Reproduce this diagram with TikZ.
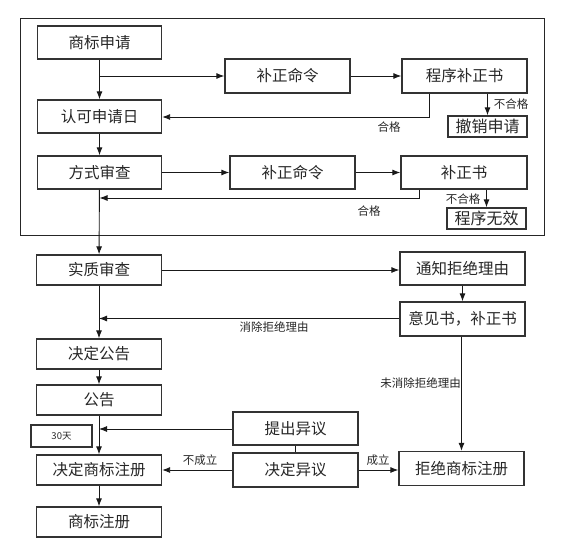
\documentclass[tikz,border=0pt]{standalone}
\usepackage{fontspec}
\newfontfamily\cjk{Noto Sans CJK SC}
\usetikzlibrary{arrows.meta}
\begin{document}
\begin{tikzpicture}[x=1pt,y=-1pt,
  box/.style={draw=black!80,line width=1.3pt,inner sep=0pt,font=\cjk\fontsize{15.5}{18}\selectfont,text=black!85},
  sbox/.style={draw=black!80,line width=1.3pt,inner sep=0pt,font=\cjk\fontsize{16}{18}\selectfont,text=black!85},
  lbl/.style={font=\cjk\fontsize{11.5}{13}\selectfont,text=black!85,inner sep=0pt},
  arr/.style={draw=black!90,line width=0.9pt,-{Latex[length=8pt,width=6pt]}},
  ln/.style={draw=black!90,line width=0.9pt}]
\useasboundingbox (0,0) rectangle (562,551);
\draw[black!85,line width=1pt] (20,19) rectangle (544,235);
% boxes
\node[box,minimum width=124pt,minimum height=33pt] (a1) at (99.5,42.5) {商标申请};
\node[box,minimum width=125pt,minimum height=34pt] (b1) at (287.5,76) {补正命令};
\node[box,minimum width=125pt,minimum height=34pt] (c1) at (464.5,76) {程序补正书};
\node[box,minimum width=124pt,minimum height=33pt] (a2) at (99.5,116.5) {认可申请日};
\node[sbox,minimum width=79pt,minimum height=21pt] (d1) at (487.5,126.5) {撤销申请};
\node[box,minimum width=124pt,minimum height=33pt] (a3) at (99.5,172.5) {方式审查};
\node[box,minimum width=125pt,minimum height=33pt] (b2) at (292.5,172.5) {补正命令};
\node[box,minimum width=126pt,minimum height=33pt] (c2) at (464,172.5) {补正书};
\node[sbox,minimum width=79pt,minimum height=21pt] (d2) at (486.5,218.5) {程序无效};
\node[box,minimum width=125pt,minimum height=30pt] (a4) at (99,270) {实质审查};
\node[box,minimum width=125pt,minimum height=33pt] (e1) at (462.5,268.5) {通知拒绝理由};
\node[box,minimum width=125pt,minimum height=34pt] (e2) at (462.5,319) {意见书，补正书};
\node[box,minimum width=125pt,minimum height=30pt] (a5) at (99,354) {决定公告};
\node[box,minimum width=125pt,minimum height=30pt] (a6) at (99,400) {公告};
\node[draw=black!80,line width=1.1pt,minimum width=61pt,minimum height=22pt,inner sep=0pt,font=\cjk\fontsize{9.5}{11}\selectfont,text=black!85] (t) at (61.5,436) {30天};
\node[box,minimum width=125pt,minimum height=33pt] (f1) at (295.5,428.5) {提出异议};
\node[box,minimum width=125pt,minimum height=34pt] (f2) at (295.5,470) {决定异议};
\node[box,minimum width=125pt,minimum height=30pt] (a7) at (99,470) {决定商标注册};
\node[box,minimum width=125pt,minimum height=34pt] (e3) at (461.5,468.5) {拒绝商标注册};
\node[box,minimum width=125pt,minimum height=30pt] (a8) at (99,522) {商标注册};
% branch points
\coordinate (p1) at (99.5,76);
\coordinate (q1) at (429,117);
\coordinate (p2) at (99.5,198);
\coordinate (q2) at (419,198);
\coordinate (p3) at (99,318.5);
\coordinate (p4) at (99,429);
% connectors
\draw[arr] (a1) -- (a2);
\draw[arr] (p1) -- (b1);
\draw[arr] (b1) -- (c1);
\draw[arr] (c1.south -| q1) -- (q1) -- (a2.east |- q1);
\draw[arr] (c1.south -| d1) -- (d1);
\draw[arr] (a2) -- (a3);
\draw[arr] (a3) -- (b2);
\draw[arr] (b2) -- (c2);
\draw[arr] (c2.south -| q2) -- (q2) -- (p2);
\draw[arr] (c2.south -| d2) -- (d2);
\draw[arr] (a3) -- (a4);
\draw[arr] (a4) -- (a4 -| e1.west);
\draw[arr] (e1) -- (e2);
\draw[arr] (e2.west |- p3) -- (p3);
\draw[arr] (e2.south -| e3) -- (e3);
\draw[arr] (a4) -- (a5);
\draw[arr] (a5) -- (a6);
\draw[arr] (a6) -- (a7);
\draw[arr] (f1.west |- p4) -- (p4);
\draw[ln] (f1) -- (f2);
\draw[arr] (f2.west) -- (f2.west -| a7.east);
\draw[arr] (f2.east) -- (f2.east -| e3.west);
\draw[arr] (a7) -- (a8);
% labels
\node[lbl] (l1) at (511,104) {不合格};
\node[lbl] (l2) at (389,127) {合格};
\node[lbl] (l3) at (463,199) {不合格};
\node[lbl] (l4) at (369,211) {合格};
\node[lbl] (l5) at (274,327) {消除拒绝理由};
\node[lbl,anchor=east] (l6) at (461,383) {未消除拒绝理由};
\node[lbl] (l7) at (200,460) {不成立};
\node[lbl] (l8) at (378,460) {成立};
\end{tikzpicture}
\end{document}
